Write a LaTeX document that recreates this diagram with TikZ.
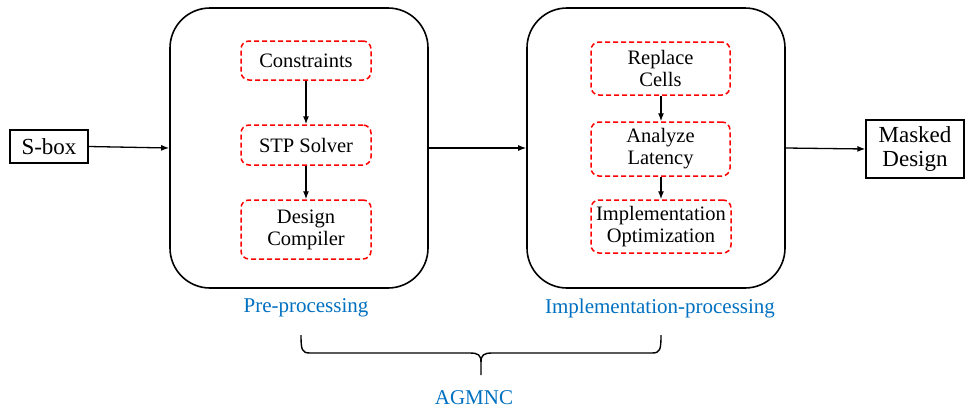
\documentclass[tikz,border=0pt]{standalone}
\usepackage{fontspec}
\setmainfont{Liberation Serif}
\usetikzlibrary{arrows.meta}
\definecolor{lblue}{RGB}{0,112,192}
\begin{document}
\begin{tikzpicture}[x=1pt,y=-1pt,
  txt/.style={font=\fontsize{20.5}{22}\selectfont, align=center, inner sep=0pt},
  bigtxt/.style={font=\fontsize{23}{24}\selectfont, align=center, inner sep=0pt},
  plainbox/.style={draw=black, line width=1.3pt, bigtxt},
  stage/.style={draw=black, line width=1.6pt, rounded corners=40pt, minimum width=258pt, minimum height=280pt},
  redbox/.style={draw=red, line width=1.5pt, dash pattern=on 5pt off 3pt, rounded corners=8pt, txt},
  arr/.style={-{Latex[length=8pt,width=6pt]}, line width=1.3pt},
  blab/.style={font=\fontsize{21}{23}\selectfont, text=lblue, inner sep=0pt}
]
\useasboundingbox (0,0) rectangle (968,410);
\node[plainbox, minimum width=78pt, minimum height=33pt] (sbox) at (49,146.5) {S-box};
\node[stage] (pre) at (299,148) {};
\node[stage] (impl) at (656,148) {};
\node[plainbox, minimum width=98pt, minimum height=58pt] (masked) at (915,149) {Masked\\Design};

\node[redbox, minimum width=130pt, minimum height=39pt] (cons) at (306,60.5) {Constraints};
\node[redbox, minimum width=130pt, minimum height=40pt] (stp) at (306,145) {STP Solver};
\node[redbox, minimum width=130pt, minimum height=59pt] (dc) at (306,229.5) {Design\\Compiler};

\node[redbox, minimum width=139pt, minimum height=53pt] (rc) at (660.5,68.5) {Replace\\Cells};
\node[redbox, minimum width=139pt, minimum height=54pt] (al) at (660.5,149) {Analyze\\Latency};
\node[redbox, minimum width=140pt, minimum height=53pt] (io) at (661,226.5) {Implementation\\Optimization};

\draw[arr] (sbox.east) -- (pre.west);
\draw[arr] (pre.east) -- (impl.west);
\draw[arr] (impl.east) -- (masked.west);
\draw[arr] (cons) -- (stp);
\draw[arr] (stp) -- (dc);
\draw[arr] (rc.south -| 661,0) -- (al.north -| 661,0);
\draw[arr] (al.south -| 661,0) -- (io.north -| 661,0);

\node[blab] (prelab) at (306,308) {Pre-processing};
\node[blab] (impllab) at (660,308) {Implementation-processing};

\coordinate (bl) at (301,335);
\coordinate (br) at (661,335);
\coordinate (btip) at (481,375);
\draw[line width=1.4pt] (bl) .. controls (301,350) and (302,353) .. (310,353)
  -- (470,353) .. controls (478,353) and (481,355) .. (481,362) -- (btip);
\draw[line width=1.4pt] (br) .. controls (661,350) and (660,353) .. (652,353)
  -- (492,353) .. controls (484,353) and (481,355) .. (481,362);
\node[blab] (agmnc) at (474,398) {AGMNC};
\end{tikzpicture}
\end{document}
